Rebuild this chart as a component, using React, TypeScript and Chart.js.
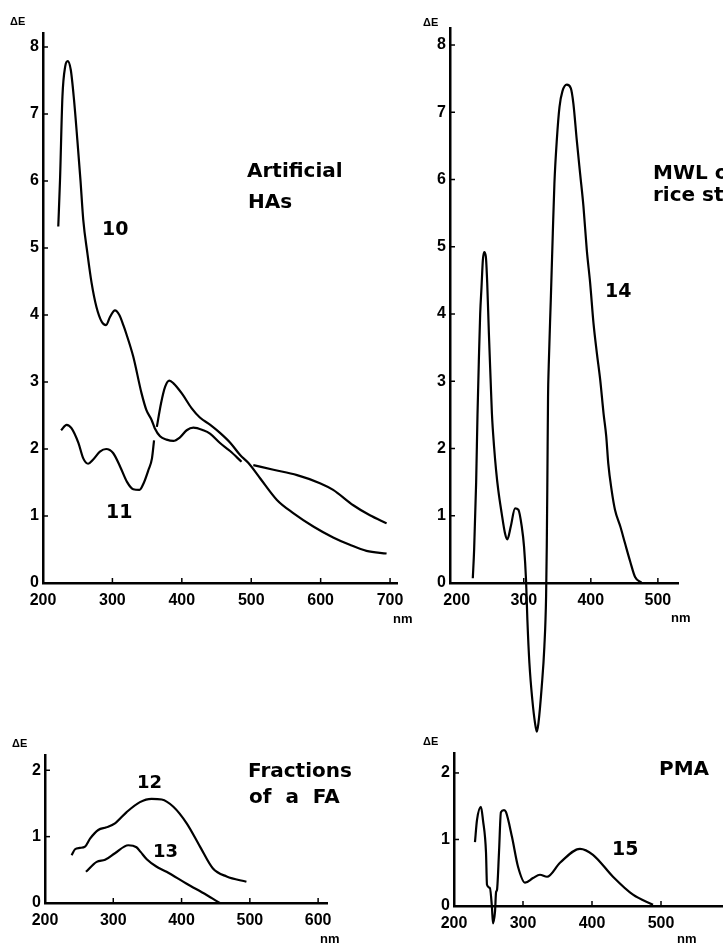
import React, { useEffect, useRef } from "react";
import { Chart, registerables } from "chart.js";

Chart.register(...registerables);

// ---------- DATA ----------
// Panel "Artificial HAs"
const ha10aNm = [222, 224.5, 228, 232, 235.6, 240, 244.7, 249.5, 254, 258, 264, 270, 277, 284.6, 290.8, 296.5, 303.7, 310, 316, 320, 330, 342, 349, 356.6, 361, 368.6, 378, 387.8, 397, 407, 416.6, 431, 440.6, 455, 469.5, 486];
const ha10aDE = [5.32, 6.01, 7.26, 7.71, 7.79, 7.66, 7.21, 6.61, 6.01, 5.42, 4.92, 4.48, 4.12, 3.9, 3.85, 3.97, 4.07, 4.0, 3.84, 3.72, 3.38, 2.83, 2.58, 2.43, 2.31, 2.19, 2.14, 2.12, 2.17, 2.28, 2.32, 2.28, 2.23, 2.09, 1.97, 1.81];
const ha10bNm = [503, 532, 566, 599, 618, 647, 671, 695];
const ha10bDE = [1.76, 1.69, 1.61, 1.49, 1.39, 1.16, 1.01, 0.89];
const ha11aNm = [226, 234, 241, 251, 258, 265, 272, 282, 291, 301, 311, 321, 330, 339, 345, 352, 357, 360];
const ha11aDE = [2.28, 2.36, 2.31, 2.09, 1.86, 1.78, 1.84, 1.96, 2.0, 1.94, 1.74, 1.51, 1.4, 1.39, 1.49, 1.69, 1.86, 2.13];
const ha11bNm = [364, 370, 376, 382, 388, 400, 414, 426, 441, 455, 470, 484, 496, 513, 537, 561, 590, 618, 642, 666, 695];
const ha11bDE = [2.33, 2.68, 2.93, 3.02, 2.98, 2.83, 2.61, 2.47, 2.36, 2.24, 2.09, 1.91, 1.79, 1.56, 1.24, 1.04, 0.84, 0.68, 0.57, 0.48, 0.44];

// Panel "MWL of rice straw"
const mwl14Nm = [224, 226, 229, 231, 233, 235, 237, 239, 241, 243.5, 245.5, 248, 250.5, 252.5, 255.7, 258.7, 262, 267, 272, 275.5, 280.6, 287, 292, 297, 300.4, 303.4, 305.4, 308.4, 312.8, 316.9, 319.4, 321.8, 326.8, 330.7, 333.3, 334.3, 335.2, 336.2, 337.2, 340.3, 343.3, 345.7, 349.3, 353.3, 357.6, 364.2, 370.1, 374, 379, 384, 389, 394, 399, 404, 409, 414, 419, 423, 426, 431, 436, 444, 451, 458.7, 466, 476];
const mwl14DE = [0.07, 0.5, 1.5, 2.5, 3.3, 4.0, 4.4, 4.8, 4.92, 4.85, 4.46, 3.71, 3.04, 2.52, 2.03, 1.68, 1.38, 1.04, 0.74, 0.65, 0.84, 1.11, 1.09, 0.84, 0.54, 0.04, -0.55, -1.19, -1.74, -2.09, -2.21, -2.09, -1.54, -0.95, -0.2, 0.54, 1.53, 2.77, 3.22, 4.21, 5.2, 5.94, 6.59, 7.08, 7.31, 7.41, 7.36, 7.13, 6.59, 6.09, 5.6, 4.95, 4.46, 3.86, 3.42, 3.02, 2.52, 2.18, 1.78, 1.38, 1.09, 0.84, 0.59, 0.32, 0.09, 0.0];

// Panel "Fractions of a FA"
const fa12Nm = [239, 244, 251, 258.6, 266, 278, 290, 302.5, 319.6, 339, 356, 371, 388, 407.5, 427, 446, 466, 495];
const fa12DE = [0.72, 0.81, 0.83, 0.85, 0.97, 1.1, 1.14, 1.2, 1.37, 1.52, 1.57, 1.56, 1.45, 1.2, 0.85, 0.52, 0.4, 0.32];
const fa13Nm = [260, 275.7, 288, 302.5, 322, 334, 340, 349, 363, 378, 407.5, 436.7, 456];
const fa13DE = [0.47, 0.62, 0.65, 0.75, 0.87, 0.84, 0.77, 0.66, 0.55, 0.47, 0.29, 0.12, 0.0];

// Panel "PMA"
const pma15Nm = [230.4, 233.3, 239, 242, 246.4, 247.8, 252, 255, 256.5, 259.4, 261, 262.3, 265.2, 268, 272.5, 275.4, 284, 292.8, 303, 314.5, 324.6, 334.8, 353.6, 382.6, 401.4, 430.4, 459.4, 488.4];
const pma15DE = [0.96, 1.29, 1.49, 1.29, 0.8, 0.32, 0.27, -0.02, -0.26, -0.09, 0.21, 0.24, 0.8, 1.41, 1.44, 1.41, 1.04, 0.59, 0.35, 0.42, 0.47, 0.44, 0.65, 0.86, 0.77, 0.44, 0.17, 0.02];

// Tick labels
const haXTicks = [200, 300, 400, 500, 600, 700];
const haYTicks = [0, 1, 2, 3, 4, 5, 6, 7, 8];
const mwlXTicks = [200, 300, 400, 500];
const mwlYTicks = [0, 1, 2, 3, 4, 5, 6, 7, 8];
const faXTicks = [200, 300, 400, 500, 600];
const faYTicks = [0, 1, 2];
const pmaXTicks = [200, 300, 400, 500];
const pmaYTicks = [0, 1, 2];

// ---------- CHART ----------
const TICK_FONT = { family: "'Liberation Sans', Arial, sans-serif", size: 16, weight: "bold" as const };
const Y_W = 32;
const X_H = 40;

const innerTicks = {
  id: "innerTicks",
  afterDraw(chart: any) {
    const { ctx, chartArea, scales } = chart;
    const x = scales.x;
    const y = scales.y;
    ctx.save();
    ctx.strokeStyle = "#000";
    ctx.lineWidth = 1.5;
    x.ticks.forEach((t: any, i: number) => {
      if (i === 0) return;
      const px = x.getPixelForValue(t.value);
      ctx.beginPath();
      ctx.moveTo(px, chartArea.bottom);
      ctx.lineTo(px, chartArea.bottom - 5);
      ctx.stroke();
    });
    y.ticks.forEach((t: any, i: number) => {
      if (i === 0) return;
      const py = y.getPixelForValue(t.value);
      ctx.beginPath();
      ctx.moveTo(chartArea.left, py);
      ctx.lineTo(chartArea.left + 5, py);
      ctx.stroke();
    });
    ctx.restore();
  },
};

type Seg = { nm: number[]; dE: number[] };
type PanelProps = {
  left: number;
  top: number;
  width: number;
  height: number;
  area: { left: number; right: number; top: number; bottom: number };
  xMin: number;
  xMax: number;
  yMin: number;
  yMax: number;
  xTicks: number[];
  yTicks: number[];
  segs: Seg[];
};

function Panel(p: PanelProps) {
  const ref = useRef<HTMLCanvasElement | null>(null);
  useEffect(() => {
    if (!ref.current) return;
    const chart = new Chart(ref.current, {
      type: "line",
      data: {
        datasets: p.segs.map((s) => ({
          data: s.nm.map((x, i) => ({ x, y: s.dE[i] })),
          borderColor: "#000",
          borderWidth: 2.2,
          pointRadius: 0,
          fill: false,
          cubicInterpolationMode: "monotone" as const,
          clip: false as any,
        })),
      },
      options: {
        responsive: false,
        animation: false,
        events: [],
        layout: {
          padding: {
            left: p.area.left - Y_W,
            right: p.width - p.area.right,
            top: p.area.top,
            bottom: p.height - p.area.bottom - X_H,
          },
        },
        plugins: { legend: { display: false }, tooltip: { enabled: false } },
        scales: {
          x: {
            type: "linear",
            min: p.xMin,
            max: p.xMax,
            afterFit: (s: any) => {
              s.height = X_H;
              s.paddingLeft = 0;
              s.paddingRight = 0;
            },
            afterBuildTicks: (s: any) => {
              s.ticks = p.xTicks.map((v) => ({ value: v }));
            },
            grid: { drawOnChartArea: false, drawTicks: false },
            border: { display: true, color: "#000", width: 2.5 },
            ticks: { color: "#000", font: TICK_FONT, padding: 8, autoSkip: false, maxRotation: 0 },
          },
          y: {
            type: "linear",
            min: p.yMin,
            max: p.yMax,
            afterFit: (s: any) => {
              s.width = Y_W;
              s.paddingTop = 0;
              s.paddingBottom = 0;
            },
            afterBuildTicks: (s: any) => {
              s.ticks = p.yTicks.map((v) => ({ value: v }));
            },
            grid: { drawOnChartArea: false, drawTicks: false },
            border: { display: true, color: "#000", width: 2.5 },
            ticks: { color: "#000", font: TICK_FONT, padding: 4, autoSkip: false },
          },
        },
      },
      plugins: [innerTicks],
    });
    return () => chart.destroy();
  }, []);
  return (
    <canvas
      ref={ref}
      width={p.width}
      height={p.height}
      style={{ position: "absolute", left: p.left, top: p.top, width: p.width, height: p.height }}
    />
  );
}

function Label(props: { text: string; x: number; base: number; size: number; bold?: boolean; family?: string; ws?: number }) {
  const fam = props.family || "'DejaVu Sans', sans-serif";
  return (
    <div
      style={{
        position: "absolute",
        left: props.x,
        top: props.base - 0.846 * props.size,
        fontSize: props.size,
        lineHeight: 1,
        fontFamily: fam,
        fontWeight: props.bold === false ? "normal" : "bold",
        whiteSpace: "pre",
        wordSpacing: props.ws || 0,
        color: "#000",
      }}
    >
      {props.text}
    </div>
  );
}

const SANS = "'Liberation Sans', Arial, sans-serif";

export default function App() {
  return (
    <div style={{ position: "absolute", left: 0, top: 0, width: 723, height: 945, overflow: "hidden", background: "#fff" }}>
      <Panel
        left={0}
        top={0}
        width={420}
        height={640}
        area={{ left: 43, right: 397, top: 33.6, bottom: 583 }}
        xMin={200}
        xMax={710}
        yMin={0}
        yMax={8.2}
        xTicks={haXTicks}
        yTicks={haYTicks}
        segs={[
          { nm: ha10aNm, dE: ha10aDE },
          { nm: ha10bNm, dE: ha10bDE },
          { nm: ha11aNm, dE: ha11aDE },
          { nm: ha11bNm, dE: ha11bDE },
        ]}
      />
      <Panel
        left={400}
        top={0}
        width={340}
        height={760}
        area={{ left: 50, right: 278, top: 28.2, bottom: 583 }}
        xMin={190}
        xMax={530}
        yMin={0}
        yMax={8.25}
        xTicks={mwlXTicks}
        yTicks={mwlYTicks}
        segs={[{ nm: mwl14Nm, dE: mwl14DE }]}
      />
      <Panel
        left={0}
        top={720}
        width={400}
        height={225}
        area={{ left: 45, right: 327, top: 35, bottom: 183 }}
        xMin={200}
        xMax={613}
        yMin={0}
        yMax={2.23}
        xTicks={faXTicks}
        yTicks={faYTicks}
        segs={[
          { nm: fa12Nm, dE: fa12DE },
          { nm: fa13Nm, dE: fa13DE },
        ]}
      />
      <Panel
        left={400}
        top={720}
        width={340}
        height={225}
        area={{ left: 54, right: 330, top: 33, bottom: 186 }}
        xMin={200}
        xMax={600}
        yMin={0}
        yMax={2.3}
        xTicks={pmaXTicks}
        yTicks={pmaYTicks}
        segs={[{ nm: pma15Nm, dE: pma15DE }]}
      />

      {/* Panel 1 texts */}
      <Label text="ΔE" x={10} base={25} size={11} family={SANS} />
      <Label text="Artificial" x={247} base={177} size={20} />
      <Label text="HAs" x={248} base={208} size={20} />
      <Label text="10" x={102} base={235} size={19} />
      <Label text="11" x={106} base={518} size={19} />
      <Label text="nm" x={393} base={623} size={13} family={SANS} />

      {/* Panel 2 texts */}
      <Label text="ΔE" x={423} base={26} size={11} family={SANS} />
      <Label text="MWL of" x={653} base={179} size={20} />
      <Label text="rice straw" x={653} base={201} size={20} />
      <Label text="14" x={605} base={297} size={19} />
      <Label text="nm" x={671} base={622} size={13} family={SANS} />

      {/* Panel 3 texts */}
      <Label text="ΔE" x={12} base={747} size={11} family={SANS} />
      <Label text="Fractions" x={248} base={777} size={20} />
      <Label text="of a FA" x={249} base={803} size={20} ws={7} />
      <Label text="12" x={137} base={788} size={18} />
      <Label text="13" x={153} base={857} size={18} />
      <Label text="nm" x={320} base={943} size={13} family={SANS} />

      {/* Panel 4 texts */}
      <Label text="ΔE" x={423} base={745} size={11} family={SANS} />
      <Label text="PMA" x={659} base={775} size={20} />
      <Label text="15" x={612} base={855} size={19} />
      <Label text="nm" x={677} base={943} size={13} family={SANS} />
    </div>
  );
}
